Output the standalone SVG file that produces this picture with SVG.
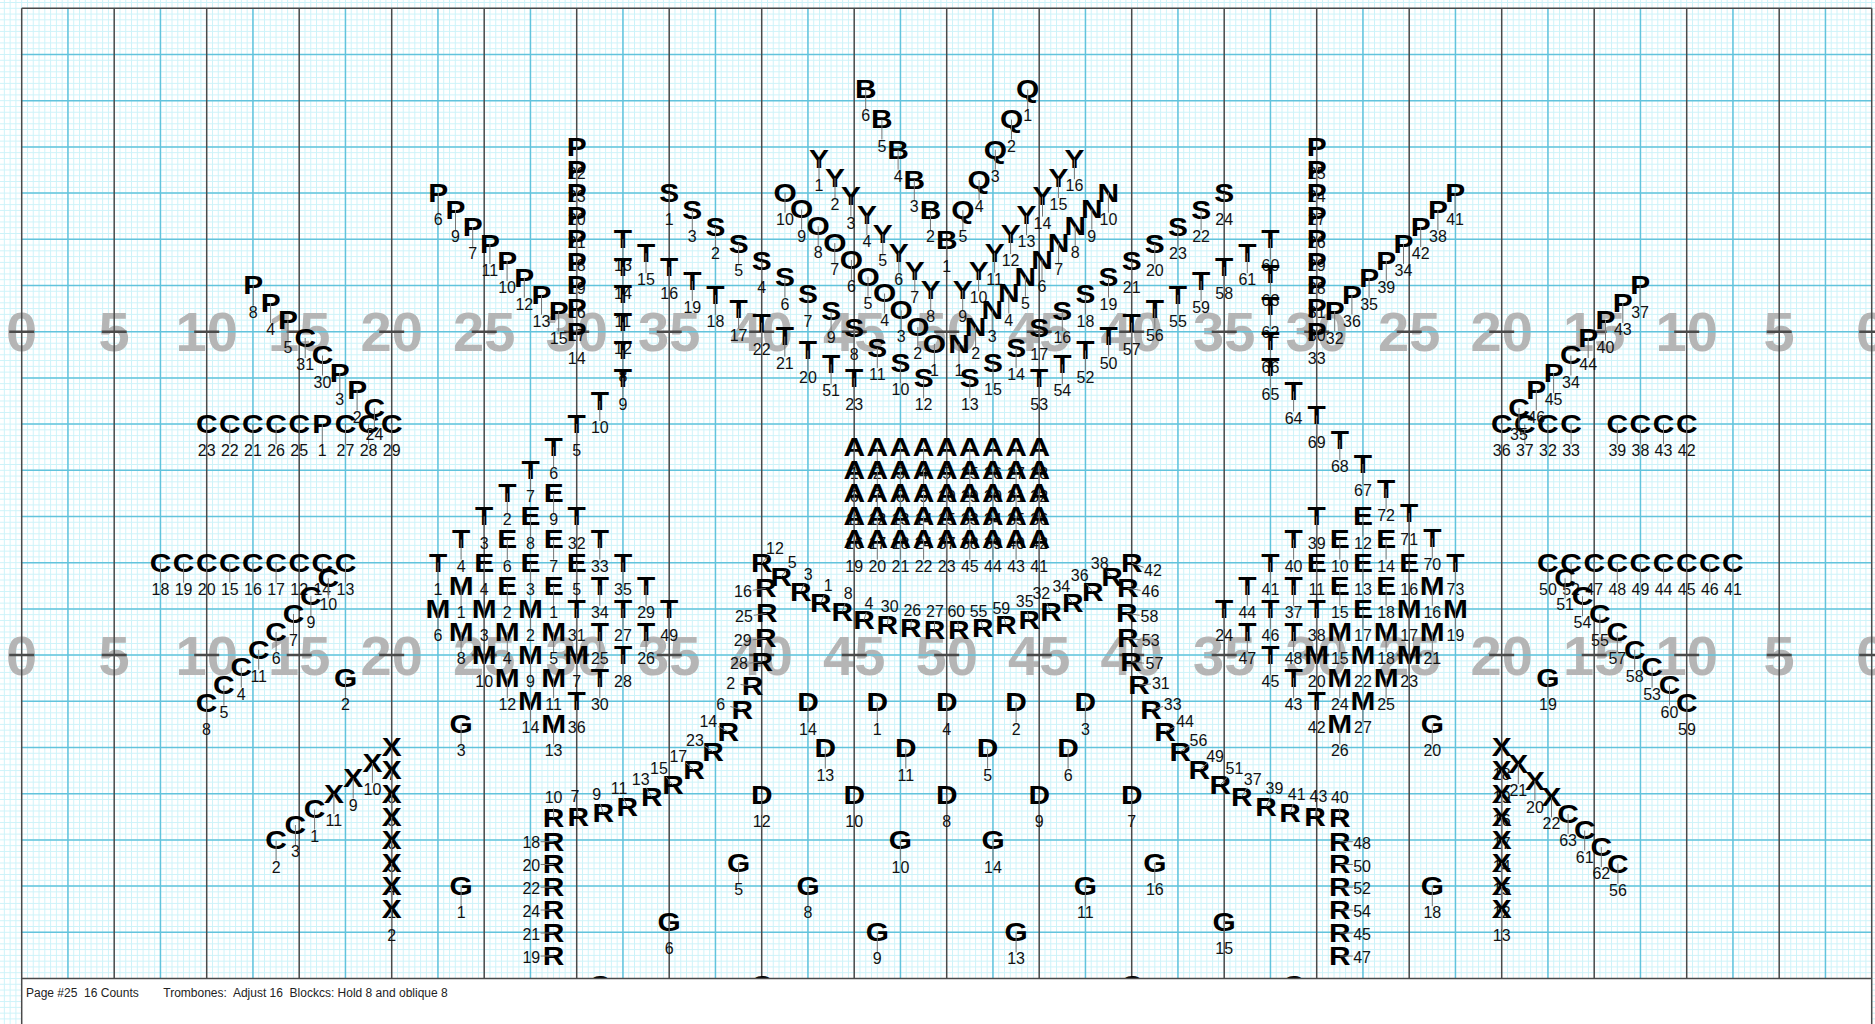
<svg xmlns="http://www.w3.org/2000/svg" width="1875" height="1024" viewBox="0 0 1875 1024">
<defs>
<pattern id="fg" x="21.2" y="7.8" width="5.78125" height="5.775" patternUnits="userSpaceOnUse"><path d="M0.5 0V5.775M0 0.5H5.78125" stroke="#cdf3f9" stroke-width="1" fill="none"/></pattern>
<style>
.f{fill:none;stroke-width:1.5}
.b{stroke:#62c3dc}
.d{stroke:#4a4a4a}
.h{stroke:#4a4a4a;stroke-width:2.5;fill:none}
.yn text{font:bold 56px "Liberation Sans",Arial,sans-serif;fill:#b5b5b5;text-anchor:middle;dominant-baseline:central}
#mk text{font:16px "Liberation Sans",Arial,sans-serif;text-anchor:middle;fill:#111}
#mk text.m{font:bold 26px "Liberation Sans",Arial,sans-serif;dominant-baseline:central;transform:scale(1.15,1);fill:#000}
#mk path{stroke:#777;stroke-width:1;fill:none}
.ft{font:12px "Liberation Sans",Arial,sans-serif;fill:#222;white-space:pre}
</style>
</defs>
<rect width="1875" height="1024" fill="#fff"/>
<rect width="1875" height="1024" fill="url(#fg)"/>
<g id="yardnumbers" class="yn">
<text x="21.7" y="331.7">0</text><text x="114.2" y="331.7">5</text><text x="206.7" y="331.7">10</text><text x="299.2" y="331.7">15</text><text x="391.7" y="331.7">20</text><text x="484.2" y="331.7">25</text><text x="576.7" y="331.7">30</text><text x="669.2" y="331.7">35</text><text x="761.7" y="331.7">40</text><text x="854.2" y="331.7">45</text><text x="946.7" y="331.7">50</text><text x="1039.2" y="331.7">45</text><text x="1131.7" y="331.7">40</text><text x="1224.2" y="331.7">35</text><text x="1316.7" y="331.7">30</text><text x="1409.2" y="331.7">25</text><text x="1501.7" y="331.7">20</text><text x="1594.2" y="331.7">15</text><text x="1686.7" y="331.7">10</text><text x="1779.2" y="331.7">5</text><text x="1871.7" y="331.7">0</text>
<text x="21.7" y="655.1">0</text><text x="114.2" y="655.1">5</text><text x="206.7" y="655.1">10</text><text x="299.2" y="655.1">15</text><text x="391.7" y="655.1">20</text><text x="484.2" y="655.1">25</text><text x="576.7" y="655.1">30</text><text x="669.2" y="655.1">35</text><text x="761.7" y="655.1">40</text><text x="854.2" y="655.1">45</text><text x="946.7" y="655.1">50</text><text x="1039.2" y="655.1">45</text><text x="1131.7" y="655.1">40</text><text x="1224.2" y="655.1">35</text><text x="1316.7" y="655.1">30</text><text x="1409.2" y="655.1">25</text><text x="1501.7" y="655.1">20</text><text x="1594.2" y="655.1">15</text><text x="1686.7" y="655.1">10</text><text x="1779.2" y="655.1">5</text><text x="1871.7" y="655.1">0</text>
</g>
<g id="field">
<path class="f b" d="M67.95 8.3V978.5M160.45 8.3V978.5M252.95 8.3V978.5M345.45 8.3V978.5M437.95 8.3V978.5M530.45 8.3V978.5M622.95 8.3V978.5M715.45 8.3V978.5M807.95 8.3V978.5M900.45 8.3V978.5M992.95 8.3V978.5M1085.45 8.3V978.5M1177.95 8.3V978.5M1270.45 8.3V978.5M1362.95 8.3V978.5M1455.45 8.3V978.5M1547.95 8.3V978.5M1640.45 8.3V978.5M1732.95 8.3V978.5M1825.45 8.3V978.5M21.7 54.5H1871.7M21.7 100.7H1871.7M21.7 146.9H1871.7M21.7 193.1H1871.7M21.7 239.3H1871.7M21.7 285.5H1871.7M21.7 331.7H1871.7M21.7 377.9H1871.7M21.7 424.1H1871.7M21.7 470.3H1871.7M21.7 516.5H1871.7M21.7 562.7H1871.7M21.7 608.9H1871.7M21.7 655.1H1871.7M21.7 701.3H1871.7M21.7 747.5H1871.7M21.7 793.7H1871.7M21.7 839.9H1871.7M21.7 886.1H1871.7M21.7 932.3H1871.7"/>
<path class="f d" d="M114.2 8.3V978.5M206.7 8.3V978.5M299.2 8.3V978.5M391.7 8.3V978.5M484.2 8.3V978.5M576.7 8.3V978.5M669.2 8.3V978.5M761.7 8.3V978.5M854.2 8.3V978.5M946.7 8.3V978.5M1039.2 8.3V978.5M1131.7 8.3V978.5M1224.2 8.3V978.5M1316.7 8.3V978.5M1409.2 8.3V978.5M1501.7 8.3V978.5M1594.2 8.3V978.5M1686.7 8.3V978.5M1779.2 8.3V978.5M21.7 8.3H1871.7"/>
<path class="h" d="M9.2 331.7h25M101.7 331.7h25M194.2 331.7h25M286.7 331.7h25M379.2 331.7h25M471.7 331.7h25M564.2 331.7h25M656.7 331.7h25M749.2 331.7h25M841.7 331.7h25M934.2 331.7h25M1026.7 331.7h25M1119.2 331.7h25M1211.7 331.7h25M1304.2 331.7h25M1396.7 331.7h25M1489.2 331.7h25M1581.7 331.7h25M1674.2 331.7h25M1766.7 331.7h25M1859.2 331.7h25M9.2 655.1h25M101.7 655.1h25M194.2 655.1h25M286.7 655.1h25M379.2 655.1h25M471.7 655.1h25M564.2 655.1h25M656.7 655.1h25M749.2 655.1h25M841.7 655.1h25M934.2 655.1h25M1026.7 655.1h25M1119.2 655.1h25M1211.7 655.1h25M1304.2 655.1h25M1396.7 655.1h25M1489.2 655.1h25M1581.7 655.1h25M1674.2 655.1h25M1766.7 655.1h25M1859.2 655.1h25"/>
</g>
<g id="mk">
<g id="C23" transform="translate(206.7 424.1)"><text class="m">C</text><path d="M0 0v20"/><text y="32">23</text></g>
<g id="C22" transform="translate(229.8 424.1)"><text class="m">C</text><path d="M0 0v20"/><text y="32">22</text></g>
<g id="C21" transform="translate(252.9 424.1)"><text class="m">C</text><path d="M0 0v20"/><text y="32">21</text></g>
<g id="C26" transform="translate(276.1 424.1)"><text class="m">C</text><path d="M0 0v20"/><text y="32">26</text></g>
<g id="C25" transform="translate(299.2 424.1)"><text class="m">C</text><path d="M0 0v20"/><text y="32">25</text></g>
<g id="P1" transform="translate(322.3 424.1)"><text class="m">P</text><path d="M0 0v20"/><text y="32">1</text></g>
<g id="C27" transform="translate(345.5 424.1)"><text class="m">C</text><path d="M0 0v20"/><text y="32">27</text></g>
<g id="C28" transform="translate(368.6 424.1)"><text class="m">C</text><path d="M0 0v20"/><text y="32">28</text></g>
<g id="C29" transform="translate(391.7 424.1)"><text class="m">C</text><path d="M0 0v20"/><text y="32">29</text></g>
<g id="P8" transform="translate(253.3 285.5)"><text class="m">P</text><path d="M0 0v20"/><text y="32">8</text></g>
<g id="P4" transform="translate(270.6 303)"><text class="m">P</text><path d="M0 0v20"/><text y="32">4</text></g>
<g id="P5" transform="translate(287.9 320.5)"><text class="m">P</text><path d="M0 0v20"/><text y="32">5</text></g>
<g id="C31" transform="translate(305.2 338)"><text class="m">C</text><path d="M0 0v20"/><text y="32">31</text></g>
<g id="C30" transform="translate(322.5 355.5)"><text class="m">C</text><path d="M0 0v20"/><text y="32">30</text></g>
<g id="P3" transform="translate(339.8 373)"><text class="m">P</text><path d="M0 0v20"/><text y="32">3</text></g>
<g id="P2" transform="translate(357.1 390.5)"><text class="m">P</text><path d="M0 0v20"/><text y="32">2</text></g>
<g id="C24" transform="translate(374.4 408)"><text class="m">C</text><path d="M0 0v20"/><text y="32">24</text></g>
<g id="P6" transform="translate(438.3 193.3)"><text class="m">P</text><path d="M0 0v20"/><text y="32">6</text></g>
<g id="P9" transform="translate(455.5 210.2)"><text class="m">P</text><path d="M0 0v20"/><text y="32">9</text></g>
<g id="P7" transform="translate(472.7 227.1)"><text class="m">P</text><path d="M0 0v20"/><text y="32">7</text></g>
<g id="P11" transform="translate(489.9 244)"><text class="m">P</text><path d="M0 0v20"/><text y="32">11</text></g>
<g id="P10" transform="translate(507.1 260.9)"><text class="m">P</text><path d="M0 0v20"/><text y="32">10</text></g>
<g id="P12" transform="translate(524.3 277.8)"><text class="m">P</text><path d="M0 0v20"/><text y="32">12</text></g>
<g id="P13" transform="translate(541.5 294.7)"><text class="m">P</text><path d="M0 0v20"/><text y="32">13</text></g>
<g id="P15" transform="translate(558.7 311.6)"><text class="m">P</text><path d="M0 0v20"/><text y="32">15</text></g>
<g id="P22" transform="translate(576.7 146.9)"><text class="m">P</text><path d="M0 0v20"/><text y="32">22</text></g>
<g id="P23" transform="translate(576.7 170)"><text class="m">P</text><path d="M0 0v20"/><text y="32">23</text></g>
<g id="P20" transform="translate(576.7 193.1)"><text class="m">P</text><path d="M0 0v20"/><text y="32">20</text></g>
<g id="P21" transform="translate(576.7 216.2)"><text class="m">P</text><path d="M0 0v20"/><text y="32">21</text></g>
<g id="P18" transform="translate(576.7 239.3)"><text class="m">P</text><path d="M0 0v20"/><text y="32">18</text></g>
<g id="P19" transform="translate(576.7 262.4)"><text class="m">P</text><path d="M0 0v20"/><text y="32">19</text></g>
<g id="P16" transform="translate(576.7 285.5)"><text class="m">P</text><path d="M0 0v20"/><text y="32">16</text></g>
<g id="P17" transform="translate(576.7 308.6)"><text class="m">P</text><path d="M0 0v20"/><text y="32">17</text></g>
<g id="P14" transform="translate(576.7 331.7)"><text class="m">P</text><path d="M0 0v20"/><text y="32">14</text></g>
<g id="C18" transform="translate(160.5 562.7)"><text class="m">C</text><path d="M0 0v20"/><text y="32">18</text></g>
<g id="C19" transform="translate(183.6 562.7)"><text class="m">C</text><path d="M0 0v20"/><text y="32">19</text></g>
<g id="C20" transform="translate(206.7 562.7)"><text class="m">C</text><path d="M0 0v20"/><text y="32">20</text></g>
<g id="C15" transform="translate(229.8 562.7)"><text class="m">C</text><path d="M0 0v20"/><text y="32">15</text></g>
<g id="C16" transform="translate(252.9 562.7)"><text class="m">C</text><path d="M0 0v20"/><text y="32">16</text></g>
<g id="C17" transform="translate(276.1 562.7)"><text class="m">C</text><path d="M0 0v20"/><text y="32">17</text></g>
<g id="C12" transform="translate(299.2 562.7)"><text class="m">C</text><path d="M0 0v20"/><text y="32">12</text></g>
<g id="C14" transform="translate(322.3 562.7)"><text class="m">C</text><path d="M0 0v20"/><text y="32">14</text></g>
<g id="C13" transform="translate(345.5 562.7)"><text class="m">C</text><path d="M0 0v20"/><text y="32">13</text></g>
<g id="C10" transform="translate(328.3 578.3)"><text class="m">C</text><path d="M0 0v20"/><text y="32">10</text></g>
<g id="C9" transform="translate(310.9 596.2)"><text class="m">C</text><path d="M0 0v20"/><text y="32">9</text></g>
<g id="C7" transform="translate(293.5 614)"><text class="m">C</text><path d="M0 0v20"/><text y="32">7</text></g>
<g id="C6" transform="translate(276.1 631.9)"><text class="m">C</text><path d="M0 0v20"/><text y="32">6</text></g>
<g id="C11" transform="translate(258.7 649.7)"><text class="m">C</text><path d="M0 0v20"/><text y="32">11</text></g>
<g id="C4" transform="translate(241.3 667.6)"><text class="m">C</text><path d="M0 0v20"/><text y="32">4</text></g>
<g id="C5" transform="translate(223.9 685.5)"><text class="m">C</text><path d="M0 0v20"/><text y="32">5</text></g>
<g id="C8" transform="translate(206.5 703.3)"><text class="m">C</text><path d="M0 0v20"/><text y="32">8</text></g>
<g id="C2" transform="translate(276.1 840.5)"><text class="m">C</text><path d="M0 0v20"/><text y="32">2</text></g>
<g id="C3" transform="translate(295.4 825)"><text class="m">C</text><path d="M0 0v20"/><text y="32">3</text></g>
<g id="C1" transform="translate(314.6 809.5)"><text class="m">C</text><path d="M0 0v20"/><text y="32">1</text></g>
<g id="X11" transform="translate(333.9 794)"><text class="m">X</text><path d="M0 0v20"/><text y="32">11</text></g>
<g id="X9" transform="translate(353.2 778.5)"><text class="m">X</text><path d="M0 0v20"/><text y="32">9</text></g>
<g id="X10" transform="translate(372.4 763)"><text class="m">X</text><path d="M0 0v20"/><text y="32">10</text></g>
<g id="X7" transform="translate(391.7 747.5)"><text class="m">X</text><path d="M0 0v20"/><text y="32">7</text></g>
<g id="X8" transform="translate(391.7 770.6)"><text class="m">X</text><path d="M0 0v20"/><text y="32">8</text></g>
<g id="X5" transform="translate(391.7 793.7)"><text class="m">X</text><path d="M0 0v20"/><text y="32">5</text></g>
<g id="X6" transform="translate(391.7 816.8)"><text class="m">X</text><path d="M0 0v20"/><text y="32">6</text></g>
<g id="X3" transform="translate(391.7 839.9)"><text class="m">X</text><path d="M0 0v20"/><text y="32">3</text></g>
<g id="X4" transform="translate(391.7 863)"><text class="m">X</text><path d="M0 0v20"/><text y="32">4</text></g>
<g id="X1" transform="translate(391.7 886.1)"><text class="m">X</text><path d="M0 0v20"/><text y="32">1</text></g>
<g id="X2" transform="translate(391.7 909.2)"><text class="m">X</text><path d="M0 0v20"/><text y="32">2</text></g>
<g id="C36" transform="translate(1501.7 424.1)"><text class="m">C</text><path d="M0 0v20"/><text y="32">36</text></g>
<g id="C37" transform="translate(1524.8 424.1)"><text class="m">C</text><path d="M0 0v20"/><text y="32">37</text></g>
<g id="C32" transform="translate(1547.9 424.1)"><text class="m">C</text><path d="M0 0v20"/><text y="32">32</text></g>
<g id="C33" transform="translate(1571.1 424.1)"><text class="m">C</text><path d="M0 0v20"/><text y="32">33</text></g>
<g id="C39" transform="translate(1617.3 424.1)"><text class="m">C</text><path d="M0 0v20"/><text y="32">39</text></g>
<g id="C38" transform="translate(1640.4 424.1)"><text class="m">C</text><path d="M0 0v20"/><text y="32">38</text></g>
<g id="C43" transform="translate(1663.5 424.1)"><text class="m">C</text><path d="M0 0v20"/><text y="32">43</text></g>
<g id="C42" transform="translate(1686.7 424.1)"><text class="m">C</text><path d="M0 0v20"/><text y="32">42</text></g>
<g id="P37" transform="translate(1640.1 285.5)"><text class="m">P</text><path d="M0 0v20"/><text y="32">37</text></g>
<g id="P43" transform="translate(1622.8 303)"><text class="m">P</text><path d="M0 0v20"/><text y="32">43</text></g>
<g id="P40" transform="translate(1605.5 320.5)"><text class="m">P</text><path d="M0 0v20"/><text y="32">40</text></g>
<g id="P44" transform="translate(1588.2 338)"><text class="m">P</text><path d="M0 0v20"/><text y="32">44</text></g>
<g id="C34" transform="translate(1570.9 355.5)"><text class="m">C</text><path d="M0 0v20"/><text y="32">34</text></g>
<g id="P45" transform="translate(1553.6 373)"><text class="m">P</text><path d="M0 0v20"/><text y="32">45</text></g>
<g id="P46" transform="translate(1536.3 390.5)"><text class="m">P</text><path d="M0 0v20"/><text y="32">46</text></g>
<g id="C35" transform="translate(1519 408)"><text class="m">C</text><path d="M0 0v20"/><text y="32">35</text></g>
<g id="P41" transform="translate(1455.1 193.3)"><text class="m">P</text><path d="M0 0v20"/><text y="32">41</text></g>
<g id="P38" transform="translate(1437.9 210.2)"><text class="m">P</text><path d="M0 0v20"/><text y="32">38</text></g>
<g id="P42" transform="translate(1420.7 227.1)"><text class="m">P</text><path d="M0 0v20"/><text y="32">42</text></g>
<g id="P34" transform="translate(1403.5 244)"><text class="m">P</text><path d="M0 0v20"/><text y="32">34</text></g>
<g id="P39" transform="translate(1386.3 260.9)"><text class="m">P</text><path d="M0 0v20"/><text y="32">39</text></g>
<g id="P35" transform="translate(1369.1 277.8)"><text class="m">P</text><path d="M0 0v20"/><text y="32">35</text></g>
<g id="P36" transform="translate(1351.9 294.7)"><text class="m">P</text><path d="M0 0v20"/><text y="32">36</text></g>
<g id="P32" transform="translate(1334.7 311.6)"><text class="m">P</text><path d="M0 0v20"/><text y="32">32</text></g>
<g id="P25" transform="translate(1316.7 146.9)"><text class="m">P</text><path d="M0 0v20"/><text y="32">25</text></g>
<g id="P24" transform="translate(1316.7 170)"><text class="m">P</text><path d="M0 0v20"/><text y="32">24</text></g>
<g id="P27" transform="translate(1316.7 193.1)"><text class="m">P</text><path d="M0 0v20"/><text y="32">27</text></g>
<g id="P26" transform="translate(1316.7 216.2)"><text class="m">P</text><path d="M0 0v20"/><text y="32">26</text></g>
<g id="P29" transform="translate(1316.7 239.3)"><text class="m">P</text><path d="M0 0v20"/><text y="32">29</text></g>
<g id="P28" transform="translate(1316.7 262.4)"><text class="m">P</text><path d="M0 0v20"/><text y="32">28</text></g>
<g id="P31" transform="translate(1316.7 285.5)"><text class="m">P</text><path d="M0 0v20"/><text y="32">31</text></g>
<g id="P30" transform="translate(1316.7 308.6)"><text class="m">P</text><path d="M0 0v20"/><text y="32">30</text></g>
<g id="P33" transform="translate(1316.7 331.7)"><text class="m">P</text><path d="M0 0v20"/><text y="32">33</text></g>
<g id="C50" transform="translate(1547.9 562.7)"><text class="m">C</text><path d="M0 0v20"/><text y="32">50</text></g>
<g id="C52" transform="translate(1571.1 562.7)"><text class="m">C</text><path d="M0 0v20"/><text y="32">52</text></g>
<g id="C47" transform="translate(1594.2 562.7)"><text class="m">C</text><path d="M0 0v20"/><text y="32">47</text></g>
<g id="C48" transform="translate(1617.3 562.7)"><text class="m">C</text><path d="M0 0v20"/><text y="32">48</text></g>
<g id="C49" transform="translate(1640.4 562.7)"><text class="m">C</text><path d="M0 0v20"/><text y="32">49</text></g>
<g id="C44" transform="translate(1663.6 562.7)"><text class="m">C</text><path d="M0 0v20"/><text y="32">44</text></g>
<g id="C45" transform="translate(1686.7 562.7)"><text class="m">C</text><path d="M0 0v20"/><text y="32">45</text></g>
<g id="C46" transform="translate(1709.8 562.7)"><text class="m">C</text><path d="M0 0v20"/><text y="32">46</text></g>
<g id="C41" transform="translate(1732.9 562.7)"><text class="m">C</text><path d="M0 0v20"/><text y="32">41</text></g>
<g id="C51" transform="translate(1565.1 578.3)"><text class="m">C</text><path d="M0 0v20"/><text y="32">51</text></g>
<g id="C54" transform="translate(1582.5 596.2)"><text class="m">C</text><path d="M0 0v20"/><text y="32">54</text></g>
<g id="C55" transform="translate(1599.9 614)"><text class="m">C</text><path d="M0 0v20"/><text y="32">55</text></g>
<g id="C57" transform="translate(1617.3 631.9)"><text class="m">C</text><path d="M0 0v20"/><text y="32">57</text></g>
<g id="C58" transform="translate(1634.7 649.7)"><text class="m">C</text><path d="M0 0v20"/><text y="32">58</text></g>
<g id="C53" transform="translate(1652.1 667.6)"><text class="m">C</text><path d="M0 0v20"/><text y="32">53</text></g>
<g id="C60" transform="translate(1669.5 685.5)"><text class="m">C</text><path d="M0 0v20"/><text y="32">60</text></g>
<g id="C59" transform="translate(1686.9 703.3)"><text class="m">C</text><path d="M0 0v20"/><text y="32">59</text></g>
<g id="X18" transform="translate(1501.7 747.5)"><text class="m">X</text><path d="M0 0v20"/><text y="32">18</text></g>
<g id="X19" transform="translate(1501.7 770.6)"><text class="m">X</text><path d="M0 0v20"/><text y="32">19</text></g>
<g id="X16" transform="translate(1501.7 793.7)"><text class="m">X</text><path d="M0 0v20"/><text y="32">16</text></g>
<g id="X17" transform="translate(1501.7 816.8)"><text class="m">X</text><path d="M0 0v20"/><text y="32">17</text></g>
<g id="X14" transform="translate(1501.7 839.9)"><text class="m">X</text><path d="M0 0v20"/><text y="32">14</text></g>
<g id="X15" transform="translate(1501.7 863)"><text class="m">X</text><path d="M0 0v20"/><text y="32">15</text></g>
<g id="X12" transform="translate(1501.7 886.1)"><text class="m">X</text><path d="M0 0v20"/><text y="32">12</text></g>
<g id="X13" transform="translate(1501.7 909.2)"><text class="m">X</text><path d="M0 0v20"/><text y="32">13</text></g>
<g id="X21" transform="translate(1518.3 764.1)"><text class="m">X</text><path d="M0 0v20"/><text y="32">21</text></g>
<g id="X20" transform="translate(1534.9 780.7)"><text class="m">X</text><path d="M0 0v20"/><text y="32">20</text></g>
<g id="X22" transform="translate(1551.5 797.3)"><text class="m">X</text><path d="M0 0v20"/><text y="32">22</text></g>
<g id="C63" transform="translate(1568.1 813.9)"><text class="m">C</text><path d="M0 0v20"/><text y="32">63</text></g>
<g id="C61" transform="translate(1584.7 830.5)"><text class="m">C</text><path d="M0 0v20"/><text y="32">61</text></g>
<g id="C62" transform="translate(1601.3 847.1)"><text class="m">C</text><path d="M0 0v20"/><text y="32">62</text></g>
<g id="C56" transform="translate(1617.9 863.7)"><text class="m">C</text><path d="M0 0v20"/><text y="32">56</text></g>
<g id="G2" transform="translate(345.5 678.2)"><text class="m">G</text><path d="M0 0v20"/><text y="32">2</text></g>
<g id="G3" transform="translate(461.1 724.4)"><text class="m">G</text><path d="M0 0v20"/><text y="32">3</text></g>
<g id="G1" transform="translate(461.1 886.1)"><text class="m">G</text><path d="M0 0v20"/><text y="32">1</text></g>
<g id="G5" transform="translate(738.6 863)"><text class="m">G</text><path d="M0 0v20"/><text y="32">5</text></g>
<g id="G6" transform="translate(669.2 922)"><text class="m">G</text><path d="M0 0v20"/><text y="32">6</text></g>
<g id="G8" transform="translate(808 886.1)"><text class="m">G</text><path d="M0 0v20"/><text y="32">8</text></g>
<g id="G9" transform="translate(877.3 932.3)"><text class="m">G</text><path d="M0 0v20"/><text y="32">9</text></g>
<g id="G10" transform="translate(900.4 840.5)"><text class="m">G</text><path d="M0 0v20"/><text y="32">10</text></g>
<g id="G14" transform="translate(993 840.5)"><text class="m">G</text><path d="M0 0v20"/><text y="32">14</text></g>
<g id="G13" transform="translate(1016.1 932.3)"><text class="m">G</text><path d="M0 0v20"/><text y="32">13</text></g>
<g id="G11" transform="translate(1085.4 886.1)"><text class="m">G</text><path d="M0 0v20"/><text y="32">11</text></g>
<g id="G16" transform="translate(1154.8 863)"><text class="m">G</text><path d="M0 0v20"/><text y="32">16</text></g>
<g id="G15" transform="translate(1224.2 922)"><text class="m">G</text><path d="M0 0v20"/><text y="32">15</text></g>
<g id="G20" transform="translate(1432.3 724.4)"><text class="m">G</text><path d="M0 0v20"/><text y="32">20</text></g>
<g id="G18" transform="translate(1432.3 886.1)"><text class="m">G</text><path d="M0 0v20"/><text y="32">18</text></g>
<g id="G19" transform="translate(1547.9 678.2)"><text class="m">G</text><path d="M0 0v20"/><text y="32">19</text></g>
<g id="D14" transform="translate(808 702.5)"><text class="m">D</text><path d="M0 0v20"/><text y="32">14</text></g>
<g id="D1" transform="translate(877.3 702.5)"><text class="m">D</text><path d="M0 0v20"/><text y="32">1</text></g>
<g id="D4" transform="translate(946.7 702.5)"><text class="m">D</text><path d="M0 0v20"/><text y="32">4</text></g>
<g id="D2" transform="translate(1016.1 702.5)"><text class="m">D</text><path d="M0 0v20"/><text y="32">2</text></g>
<g id="D3" transform="translate(1085.4 702.5)"><text class="m">D</text><path d="M0 0v20"/><text y="32">3</text></g>
<g id="D13" transform="translate(825.3 748.5)"><text class="m">D</text><path d="M0 0v20"/><text y="32">13</text></g>
<g id="D11" transform="translate(905.8 748.5)"><text class="m">D</text><path d="M0 0v20"/><text y="32">11</text></g>
<g id="D5" transform="translate(987.6 748.5)"><text class="m">D</text><path d="M0 0v20"/><text y="32">5</text></g>
<g id="D6" transform="translate(1068.1 748.5)"><text class="m">D</text><path d="M0 0v20"/><text y="32">6</text></g>
<g id="D12" transform="translate(761.7 795)"><text class="m">D</text><path d="M0 0v20"/><text y="32">12</text></g>
<g id="D10" transform="translate(854.2 795)"><text class="m">D</text><path d="M0 0v20"/><text y="32">10</text></g>
<g id="D8" transform="translate(946.7 795)"><text class="m">D</text><path d="M0 0v20"/><text y="32">8</text></g>
<g id="D9" transform="translate(1039.2 795)"><text class="m">D</text><path d="M0 0v20"/><text y="32">9</text></g>
<g id="D7" transform="translate(1131.7 795)"><text class="m">D</text><path d="M0 0v20"/><text y="32">7</text></g>
<g id="Cb1" transform="translate(599.8 985)"><text class="m">C</text></g>
<g id="Cb2" transform="translate(761.7 985)"><text class="m">C</text></g>
<g id="Cb3" transform="translate(1131.7 985)"><text class="m">C</text></g>
<g id="Cb4" transform="translate(1293.6 985)"><text class="m">C</text></g>
<g id="B6" transform="translate(865.7 89.3)"><text class="m">B</text><path d="M0 0v20"/><text y="32">6</text></g>
<g id="B5" transform="translate(881.9 119.5)"><text class="m">B</text><path d="M0 0v20"/><text y="32">5</text></g>
<g id="B4" transform="translate(898.1 149.7)"><text class="m">B</text><path d="M0 0v20"/><text y="32">4</text></g>
<g id="B3" transform="translate(914.3 179.9)"><text class="m">B</text><path d="M0 0v20"/><text y="32">3</text></g>
<g id="B2" transform="translate(930.5 210.1)"><text class="m">B</text><path d="M0 0v20"/><text y="32">2</text></g>
<g id="B1" transform="translate(946.7 240.3)"><text class="m">B</text><path d="M0 0v20"/><text y="32">1</text></g>
<g id="Q1" transform="translate(1027.7 89.3)"><text class="m">Q</text><path d="M0 0v20"/><text y="32">1</text></g>
<g id="Q2" transform="translate(1011.5 119.5)"><text class="m">Q</text><path d="M0 0v20"/><text y="32">2</text></g>
<g id="Q3" transform="translate(995.3 149.7)"><text class="m">Q</text><path d="M0 0v20"/><text y="32">3</text></g>
<g id="Q4" transform="translate(979.1 179.9)"><text class="m">Q</text><path d="M0 0v20"/><text y="32">4</text></g>
<g id="Q5" transform="translate(962.9 210.1)"><text class="m">Q</text><path d="M0 0v20"/><text y="32">5</text></g>
<g id="Y1" transform="translate(819 159.3)"><text class="m">Y</text><path d="M0 0v20"/><text y="32">1</text></g>
<g id="Y2" transform="translate(835 178)"><text class="m">Y</text><path d="M0 0v20"/><text y="32">2</text></g>
<g id="Y3" transform="translate(850.9 196.6)"><text class="m">Y</text><path d="M0 0v20"/><text y="32">3</text></g>
<g id="Y4" transform="translate(866.9 215.3)"><text class="m">Y</text><path d="M0 0v20"/><text y="32">4</text></g>
<g id="Y5" transform="translate(882.8 234)"><text class="m">Y</text><path d="M0 0v20"/><text y="32">5</text></g>
<g id="Y6" transform="translate(898.8 252.7)"><text class="m">Y</text><path d="M0 0v20"/><text y="32">6</text></g>
<g id="Y7" transform="translate(914.8 271.3)"><text class="m">Y</text><path d="M0 0v20"/><text y="32">7</text></g>
<g id="Y8" transform="translate(930.7 290)"><text class="m">Y</text><path d="M0 0v20"/><text y="32">8</text></g>
<g id="Y16" transform="translate(1074.4 159.3)"><text class="m">Y</text><path d="M0 0v20"/><text y="32">16</text></g>
<g id="Y15" transform="translate(1058.4 178)"><text class="m">Y</text><path d="M0 0v20"/><text y="32">15</text></g>
<g id="Y14" transform="translate(1042.5 196.6)"><text class="m">Y</text><path d="M0 0v20"/><text y="32">14</text></g>
<g id="Y13" transform="translate(1026.5 215.3)"><text class="m">Y</text><path d="M0 0v20"/><text y="32">13</text></g>
<g id="Y12" transform="translate(1010.6 234)"><text class="m">Y</text><path d="M0 0v20"/><text y="32">12</text></g>
<g id="Y11" transform="translate(994.6 252.7)"><text class="m">Y</text><path d="M0 0v20"/><text y="32">11</text></g>
<g id="Y10" transform="translate(978.6 271.3)"><text class="m">Y</text><path d="M0 0v20"/><text y="32">10</text></g>
<g id="Y9" transform="translate(962.7 290)"><text class="m">Y</text><path d="M0 0v20"/><text y="32">9</text></g>
<g id="O10" transform="translate(785 192.7)"><text class="m">O</text><path d="M0 0v20"/><text y="32">10</text></g>
<g id="O9" transform="translate(801.6 209.5)"><text class="m">O</text><path d="M0 0v20"/><text y="32">9</text></g>
<g id="O8" transform="translate(818.2 226.3)"><text class="m">O</text><path d="M0 0v20"/><text y="32">8</text></g>
<g id="O7" transform="translate(834.8 243.1)"><text class="m">O</text><path d="M0 0v20"/><text y="32">7</text></g>
<g id="O6" transform="translate(851.4 259.9)"><text class="m">O</text><path d="M0 0v20"/><text y="32">6</text></g>
<g id="O5" transform="translate(868 276.7)"><text class="m">O</text><path d="M0 0v20"/><text y="32">5</text></g>
<g id="O4" transform="translate(884.6 293.5)"><text class="m">O</text><path d="M0 0v20"/><text y="32">4</text></g>
<g id="O3" transform="translate(901.2 310.3)"><text class="m">O</text><path d="M0 0v20"/><text y="32">3</text></g>
<g id="O2" transform="translate(917.8 327.1)"><text class="m">O</text><path d="M0 0v20"/><text y="32">2</text></g>
<g id="O1" transform="translate(934.4 343.9)"><text class="m">O</text><path d="M0 0v20"/><text y="32">1</text></g>
<g id="N10" transform="translate(1108.4 192.7)"><text class="m">N</text><path d="M0 0v20"/><text y="32">10</text></g>
<g id="N9" transform="translate(1091.8 209.5)"><text class="m">N</text><path d="M0 0v20"/><text y="32">9</text></g>
<g id="N8" transform="translate(1075.2 226.3)"><text class="m">N</text><path d="M0 0v20"/><text y="32">8</text></g>
<g id="N7" transform="translate(1058.6 243.1)"><text class="m">N</text><path d="M0 0v20"/><text y="32">7</text></g>
<g id="N6" transform="translate(1042 259.9)"><text class="m">N</text><path d="M0 0v20"/><text y="32">6</text></g>
<g id="N5" transform="translate(1025.4 276.7)"><text class="m">N</text><path d="M0 0v20"/><text y="32">5</text></g>
<g id="N4" transform="translate(1008.8 293.5)"><text class="m">N</text><path d="M0 0v20"/><text y="32">4</text></g>
<g id="N3" transform="translate(992.2 310.3)"><text class="m">N</text><path d="M0 0v20"/><text y="32">3</text></g>
<g id="N2" transform="translate(975.6 327.1)"><text class="m">N</text><path d="M0 0v20"/><text y="32">2</text></g>
<g id="N1" transform="translate(959 343.9)"><text class="m">N</text><path d="M0 0v20"/><text y="32">1</text></g>
<g id="S1" transform="translate(669.2 193.1)"><text class="m">S</text><path d="M0 0v20"/><text y="32">1</text></g>
<g id="S3" transform="translate(692.3 210)"><text class="m">S</text><path d="M0 0v20"/><text y="32">3</text></g>
<g id="S2" transform="translate(715.5 226.9)"><text class="m">S</text><path d="M0 0v20"/><text y="32">2</text></g>
<g id="S5" transform="translate(738.6 243.8)"><text class="m">S</text><path d="M0 0v20"/><text y="32">5</text></g>
<g id="S4" transform="translate(761.7 260.7)"><text class="m">S</text><path d="M0 0v20"/><text y="32">4</text></g>
<g id="S6" transform="translate(784.9 277.6)"><text class="m">S</text><path d="M0 0v20"/><text y="32">6</text></g>
<g id="S7" transform="translate(808 294.5)"><text class="m">S</text><path d="M0 0v20"/><text y="32">7</text></g>
<g id="S9" transform="translate(831.1 311.4)"><text class="m">S</text><path d="M0 0v20"/><text y="32">9</text></g>
<g id="S8" transform="translate(854.2 328.3)"><text class="m">S</text><path d="M0 0v20"/><text y="32">8</text></g>
<g id="S11" transform="translate(877.3 347.9)"><text class="m">S</text><path d="M0 0v20"/><text y="32">11</text></g>
<g id="S10" transform="translate(900.4 363)"><text class="m">S</text><path d="M0 0v20"/><text y="32">10</text></g>
<g id="S12" transform="translate(923.6 378.3)"><text class="m">S</text><path d="M0 0v20"/><text y="32">12</text></g>
<g id="S24" transform="translate(1224.2 193.1)"><text class="m">S</text><path d="M0 0v20"/><text y="32">24</text></g>
<g id="S22" transform="translate(1201.1 210)"><text class="m">S</text><path d="M0 0v20"/><text y="32">22</text></g>
<g id="S23" transform="translate(1177.9 226.9)"><text class="m">S</text><path d="M0 0v20"/><text y="32">23</text></g>
<g id="S20" transform="translate(1154.8 243.8)"><text class="m">S</text><path d="M0 0v20"/><text y="32">20</text></g>
<g id="S21" transform="translate(1131.7 260.7)"><text class="m">S</text><path d="M0 0v20"/><text y="32">21</text></g>
<g id="S19" transform="translate(1108.5 277.6)"><text class="m">S</text><path d="M0 0v20"/><text y="32">19</text></g>
<g id="S18" transform="translate(1085.4 294.5)"><text class="m">S</text><path d="M0 0v20"/><text y="32">18</text></g>
<g id="S16" transform="translate(1062.3 311.4)"><text class="m">S</text><path d="M0 0v20"/><text y="32">16</text></g>
<g id="S17" transform="translate(1039.2 328.3)"><text class="m">S</text><path d="M0 0v20"/><text y="32">17</text></g>
<g id="S14" transform="translate(1016.1 347.9)"><text class="m">S</text><path d="M0 0v20"/><text y="32">14</text></g>
<g id="S15" transform="translate(993 363)"><text class="m">S</text><path d="M0 0v20"/><text y="32">15</text></g>
<g id="S13" transform="translate(969.8 378.3)"><text class="m">S</text><path d="M0 0v20"/><text y="32">13</text></g>
<g id="T13" transform="translate(622.9 239.3)"><text class="m">T</text><path d="M0 0v20"/><text y="32">13</text></g>
<g id="T15" transform="translate(646 253.2)"><text class="m">T</text><path d="M0 0v20"/><text y="32">15</text></g>
<g id="T16" transform="translate(669.2 267.1)"><text class="m">T</text><path d="M0 0v20"/><text y="32">16</text></g>
<g id="T19" transform="translate(692.3 281)"><text class="m">T</text><path d="M0 0v20"/><text y="32">19</text></g>
<g id="T18" transform="translate(715.4 294.9)"><text class="m">T</text><path d="M0 0v20"/><text y="32">18</text></g>
<g id="T17" transform="translate(738.6 308.8)"><text class="m">T</text><path d="M0 0v20"/><text y="32">17</text></g>
<g id="T22" transform="translate(761.7 322.7)"><text class="m">T</text><path d="M0 0v20"/><text y="32">22</text></g>
<g id="T21" transform="translate(784.8 336.6)"><text class="m">T</text><path d="M0 0v20"/><text y="32">21</text></g>
<g id="T20" transform="translate(807.9 350.5)"><text class="m">T</text><path d="M0 0v20"/><text y="32">20</text></g>
<g id="T51" transform="translate(831.1 364.4)"><text class="m">T</text><path d="M0 0v20"/><text y="32">51</text></g>
<g id="T23" transform="translate(854.2 378.3)"><text class="m">T</text><path d="M0 0v20"/><text y="32">23</text></g>
<g id="T14" transform="translate(622.9 267)"><text class="m">T</text><path d="M0 0v20"/><text y="32">14</text></g>
<g id="T11" transform="translate(622.9 294.6)"><text class="m">T</text><path d="M0 0v20"/><text y="32">11</text></g>
<g id="T12" transform="translate(622.9 322.3)"><text class="m">T</text><path d="M0 0v20"/><text y="32">12</text></g>
<g id="T8" transform="translate(622.9 350)"><text class="m">T</text><path d="M0 0v20"/><text y="32">8</text></g>
<g id="T9" transform="translate(622.9 377.9)"><text class="m">T</text><path d="M0 0v20"/><text y="32">9</text></g>
<g id="T10" transform="translate(599.8 401)"><text class="m">T</text><path d="M0 0v20"/><text y="32">10</text></g>
<g id="T5" transform="translate(576.7 424.1)"><text class="m">T</text><path d="M0 0v20"/><text y="32">5</text></g>
<g id="T6" transform="translate(553.6 447.2)"><text class="m">T</text><path d="M0 0v20"/><text y="32">6</text></g>
<g id="T7" transform="translate(530.5 470.3)"><text class="m">T</text><path d="M0 0v20"/><text y="32">7</text></g>
<g id="T2" transform="translate(507.3 493.4)"><text class="m">T</text><path d="M0 0v20"/><text y="32">2</text></g>
<g id="T3" transform="translate(484.2 516.5)"><text class="m">T</text><path d="M0 0v20"/><text y="32">3</text></g>
<g id="T4" transform="translate(461.1 539.6)"><text class="m">T</text><path d="M0 0v20"/><text y="32">4</text></g>
<g id="T1" transform="translate(438 562.7)"><text class="m">T</text><path d="M0 0v20"/><text y="32">1</text></g>
<g id="E9" transform="translate(553.6 493.4)"><text class="m">E</text><path d="M0 0v20"/><text y="32">9</text></g>
<g id="E8" transform="translate(530.5 516.5)"><text class="m">E</text><path d="M0 0v20"/><text y="32">8</text></g>
<g id="T32" transform="translate(576.7 516.5)"><text class="m">T</text><path d="M0 0v20"/><text y="32">32</text></g>
<g id="E6" transform="translate(507.3 539.6)"><text class="m">E</text><path d="M0 0v20"/><text y="32">6</text></g>
<g id="E7" transform="translate(553.6 539.6)"><text class="m">E</text><path d="M0 0v20"/><text y="32">7</text></g>
<g id="T33" transform="translate(599.8 539.6)"><text class="m">T</text><path d="M0 0v20"/><text y="32">33</text></g>
<g id="E4" transform="translate(484.2 562.7)"><text class="m">E</text><path d="M0 0v20"/><text y="32">4</text></g>
<g id="E3" transform="translate(530.5 562.7)"><text class="m">E</text><path d="M0 0v20"/><text y="32">3</text></g>
<g id="E5" transform="translate(576.7 562.7)"><text class="m">E</text><path d="M0 0v20"/><text y="32">5</text></g>
<g id="T35" transform="translate(623 562.7)"><text class="m">T</text><path d="M0 0v20"/><text y="32">35</text></g>
<g id="M1" transform="translate(461.1 585.8)"><text class="m">M</text><path d="M0 0v20"/><text y="32">1</text></g>
<g id="E2" transform="translate(507.3 585.8)"><text class="m">E</text><path d="M0 0v20"/><text y="32">2</text></g>
<g id="E1" transform="translate(553.6 585.8)"><text class="m">E</text><path d="M0 0v20"/><text y="32">1</text></g>
<g id="T34" transform="translate(599.8 585.8)"><text class="m">T</text><path d="M0 0v20"/><text y="32">34</text></g>
<g id="T29" transform="translate(646.1 585.8)"><text class="m">T</text><path d="M0 0v20"/><text y="32">29</text></g>
<g id="M6" transform="translate(438 608.9)"><text class="m">M</text><path d="M0 0v20"/><text y="32">6</text></g>
<g id="M3" transform="translate(484.2 608.9)"><text class="m">M</text><path d="M0 0v20"/><text y="32">3</text></g>
<g id="M2" transform="translate(530.5 608.9)"><text class="m">M</text><path d="M0 0v20"/><text y="32">2</text></g>
<g id="T31" transform="translate(576.7 608.9)"><text class="m">T</text><path d="M0 0v20"/><text y="32">31</text></g>
<g id="T27" transform="translate(623 608.9)"><text class="m">T</text><path d="M0 0v20"/><text y="32">27</text></g>
<g id="T49" transform="translate(669.2 608.9)"><text class="m">T</text><path d="M0 0v20"/><text y="32">49</text></g>
<g id="M8" transform="translate(461.1 632)"><text class="m">M</text><path d="M0 0v20"/><text y="32">8</text></g>
<g id="M4" transform="translate(507.3 632)"><text class="m">M</text><path d="M0 0v20"/><text y="32">4</text></g>
<g id="M5" transform="translate(553.6 632)"><text class="m">M</text><path d="M0 0v20"/><text y="32">5</text></g>
<g id="T25" transform="translate(599.8 632)"><text class="m">T</text><path d="M0 0v20"/><text y="32">25</text></g>
<g id="T26" transform="translate(646.1 632)"><text class="m">T</text><path d="M0 0v20"/><text y="32">26</text></g>
<g id="M10" transform="translate(484.2 655.1)"><text class="m">M</text><path d="M0 0v20"/><text y="32">10</text></g>
<g id="M9" transform="translate(530.5 655.1)"><text class="m">M</text><path d="M0 0v20"/><text y="32">9</text></g>
<g id="M7" transform="translate(576.7 655.1)"><text class="m">M</text><path d="M0 0v20"/><text y="32">7</text></g>
<g id="T28" transform="translate(623 655.1)"><text class="m">T</text><path d="M0 0v20"/><text y="32">28</text></g>
<g id="M12" transform="translate(507.3 678.2)"><text class="m">M</text><path d="M0 0v20"/><text y="32">12</text></g>
<g id="M11" transform="translate(553.6 678.2)"><text class="m">M</text><path d="M0 0v20"/><text y="32">11</text></g>
<g id="T30" transform="translate(599.8 678.2)"><text class="m">T</text><path d="M0 0v20"/><text y="32">30</text></g>
<g id="M14" transform="translate(530.5 701.3)"><text class="m">M</text><path d="M0 0v20"/><text y="32">14</text></g>
<g id="T36" transform="translate(576.7 701.3)"><text class="m">T</text><path d="M0 0v20"/><text y="32">36</text></g>
<g id="M13" transform="translate(553.6 724.4)"><text class="m">M</text><path d="M0 0v20"/><text y="32">13</text></g>
<g id="T60" transform="translate(1270.4 239.3)"><text class="m">T</text><path d="M0 0v20"/><text y="32">60</text></g>
<g id="T61" transform="translate(1247.3 253.2)"><text class="m">T</text><path d="M0 0v20"/><text y="32">61</text></g>
<g id="T58" transform="translate(1224.2 267.1)"><text class="m">T</text><path d="M0 0v20"/><text y="32">58</text></g>
<g id="T59" transform="translate(1201.1 281)"><text class="m">T</text><path d="M0 0v20"/><text y="32">59</text></g>
<g id="T55" transform="translate(1177.9 294.9)"><text class="m">T</text><path d="M0 0v20"/><text y="32">55</text></g>
<g id="T56" transform="translate(1154.8 308.8)"><text class="m">T</text><path d="M0 0v20"/><text y="32">56</text></g>
<g id="T57" transform="translate(1131.7 322.7)"><text class="m">T</text><path d="M0 0v20"/><text y="32">57</text></g>
<g id="T50" transform="translate(1108.6 336.6)"><text class="m">T</text><path d="M0 0v20"/><text y="32">50</text></g>
<g id="T52" transform="translate(1085.4 350.5)"><text class="m">T</text><path d="M0 0v20"/><text y="32">52</text></g>
<g id="T54" transform="translate(1062.3 364.4)"><text class="m">T</text><path d="M0 0v20"/><text y="32">54</text></g>
<g id="T53" transform="translate(1039.2 378.3)"><text class="m">T</text><path d="M0 0v20"/><text y="32">53</text></g>
<g id="T63" transform="translate(1270.4 274)"><text class="m">T</text><path d="M0 0v20"/><text y="32">63</text></g>
<g id="T62" transform="translate(1270.4 306)"><text class="m">T</text><path d="M0 0v20"/><text y="32">62</text></g>
<g id="T66" transform="translate(1270.4 341)"><text class="m">T</text><path d="M0 0v20"/><text y="32">66</text></g>
<g id="T65" transform="translate(1270.4 367.5)"><text class="m">T</text><path d="M0 0v20"/><text y="32">65</text></g>
<g id="T64" transform="translate(1293.6 391.5)"><text class="m">T</text><path d="M0 0v20"/><text y="32">64</text></g>
<g id="T69" transform="translate(1316.7 415.5)"><text class="m">T</text><path d="M0 0v20"/><text y="32">69</text></g>
<g id="T68" transform="translate(1339.8 440)"><text class="m">T</text><path d="M0 0v20"/><text y="32">68</text></g>
<g id="T67" transform="translate(1362.9 464)"><text class="m">T</text><path d="M0 0v20"/><text y="32">67</text></g>
<g id="T72" transform="translate(1386.1 489)"><text class="m">T</text><path d="M0 0v20"/><text y="32">72</text></g>
<g id="T71" transform="translate(1409.2 513)"><text class="m">T</text><path d="M0 0v20"/><text y="32">71</text></g>
<g id="T70" transform="translate(1432.3 538.3)"><text class="m">T</text><path d="M0 0v20"/><text y="32">70</text></g>
<g id="T73" transform="translate(1455.4 562.7)"><text class="m">T</text><path d="M0 0v20"/><text y="32">73</text></g>
<g id="T39" transform="translate(1316.7 516.5)"><text class="m">T</text><path d="M0 0v20"/><text y="32">39</text></g>
<g id="E12" transform="translate(1362.9 516.5)"><text class="m">E</text><path d="M0 0v20"/><text y="32">12</text></g>
<g id="T40" transform="translate(1293.6 539.6)"><text class="m">T</text><path d="M0 0v20"/><text y="32">40</text></g>
<g id="E10" transform="translate(1339.8 539.6)"><text class="m">E</text><path d="M0 0v20"/><text y="32">10</text></g>
<g id="E14" transform="translate(1386.1 539.6)"><text class="m">E</text><path d="M0 0v20"/><text y="32">14</text></g>
<g id="T41" transform="translate(1270.4 562.7)"><text class="m">T</text><path d="M0 0v20"/><text y="32">41</text></g>
<g id="E11" transform="translate(1316.7 562.7)"><text class="m">E</text><path d="M0 0v20"/><text y="32">11</text></g>
<g id="E13" transform="translate(1362.9 562.7)"><text class="m">E</text><path d="M0 0v20"/><text y="32">13</text></g>
<g id="E16" transform="translate(1409.2 562.7)"><text class="m">E</text><path d="M0 0v20"/><text y="32">16</text></g>
<g id="T44" transform="translate(1247.3 585.8)"><text class="m">T</text><path d="M0 0v20"/><text y="32">44</text></g>
<g id="T37" transform="translate(1293.6 585.8)"><text class="m">T</text><path d="M0 0v20"/><text y="32">37</text></g>
<g id="E15" transform="translate(1339.8 585.8)"><text class="m">E</text><path d="M0 0v20"/><text y="32">15</text></g>
<g id="E18" transform="translate(1386.1 585.8)"><text class="m">E</text><path d="M0 0v20"/><text y="32">18</text></g>
<g id="M16" transform="translate(1432.3 585.8)"><text class="m">M</text><path d="M0 0v20"/><text y="32">16</text></g>
<g id="T24" transform="translate(1224.2 608.9)"><text class="m">T</text><path d="M0 0v20"/><text y="32">24</text></g>
<g id="T46" transform="translate(1270.4 608.9)"><text class="m">T</text><path d="M0 0v20"/><text y="32">46</text></g>
<g id="T38" transform="translate(1316.7 608.9)"><text class="m">T</text><path d="M0 0v20"/><text y="32">38</text></g>
<g id="E17" transform="translate(1362.9 608.9)"><text class="m">E</text><path d="M0 0v20"/><text y="32">17</text></g>
<g id="M17" transform="translate(1409.2 608.9)"><text class="m">M</text><path d="M0 0v20"/><text y="32">17</text></g>
<g id="M19" transform="translate(1455.4 608.9)"><text class="m">M</text><path d="M0 0v20"/><text y="32">19</text></g>
<g id="T47" transform="translate(1247.3 632)"><text class="m">T</text><path d="M0 0v20"/><text y="32">47</text></g>
<g id="T48" transform="translate(1293.6 632)"><text class="m">T</text><path d="M0 0v20"/><text y="32">48</text></g>
<g id="M15" transform="translate(1339.8 632)"><text class="m">M</text><path d="M0 0v20"/><text y="32">15</text></g>
<g id="M18" transform="translate(1386.1 632)"><text class="m">M</text><path d="M0 0v20"/><text y="32">18</text></g>
<g id="M21" transform="translate(1432.3 632)"><text class="m">M</text><path d="M0 0v20"/><text y="32">21</text></g>
<g id="T45" transform="translate(1270.4 655.1)"><text class="m">T</text><path d="M0 0v20"/><text y="32">45</text></g>
<g id="M20" transform="translate(1316.7 655.1)"><text class="m">M</text><path d="M0 0v20"/><text y="32">20</text></g>
<g id="M22" transform="translate(1362.9 655.1)"><text class="m">M</text><path d="M0 0v20"/><text y="32">22</text></g>
<g id="M23" transform="translate(1409.2 655.1)"><text class="m">M</text><path d="M0 0v20"/><text y="32">23</text></g>
<g id="T43" transform="translate(1293.6 678.2)"><text class="m">T</text><path d="M0 0v20"/><text y="32">43</text></g>
<g id="M24" transform="translate(1339.8 678.2)"><text class="m">M</text><path d="M0 0v20"/><text y="32">24</text></g>
<g id="M25" transform="translate(1386.1 678.2)"><text class="m">M</text><path d="M0 0v20"/><text y="32">25</text></g>
<g id="T42" transform="translate(1316.7 701.3)"><text class="m">T</text><path d="M0 0v20"/><text y="32">42</text></g>
<g id="M27" transform="translate(1362.9 701.3)"><text class="m">M</text><path d="M0 0v20"/><text y="32">27</text></g>
<g id="M26" transform="translate(1339.8 724.4)"><text class="m">M</text><path d="M0 0v20"/><text y="32">26</text></g>
<g id="A1" transform="translate(854.2 447.2)"><text class="m">A</text><path d="M0 0v20"/><text y="32">1</text></g>
<g id="A2" transform="translate(877.3 447.2)"><text class="m">A</text><path d="M0 0v20"/><text y="32">2</text></g>
<g id="A3" transform="translate(900.4 447.2)"><text class="m">A</text><path d="M0 0v20"/><text y="32">3</text></g>
<g id="A4" transform="translate(923.6 447.2)"><text class="m">A</text><path d="M0 0v20"/><text y="32">4</text></g>
<g id="A5" transform="translate(946.7 447.2)"><text class="m">A</text><path d="M0 0v20"/><text y="32">5</text></g>
<g id="A25" transform="translate(969.8 447.2)"><text class="m">A</text><path d="M0 0v20"/><text y="32">25</text></g>
<g id="A26" transform="translate(992.9 447.2)"><text class="m">A</text><path d="M0 0v20"/><text y="32">26</text></g>
<g id="A27" transform="translate(1016.1 447.2)"><text class="m">A</text><path d="M0 0v20"/><text y="32">27</text></g>
<g id="A28" transform="translate(1039.2 447.2)"><text class="m">A</text><path d="M0 0v20"/><text y="32">28</text></g>
<g id="A6" transform="translate(854.2 470.3)"><text class="m">A</text><path d="M0 0v20"/><text y="32">6</text></g>
<g id="A7" transform="translate(877.3 470.3)"><text class="m">A</text><path d="M0 0v20"/><text y="32">7</text></g>
<g id="A8" transform="translate(900.4 470.3)"><text class="m">A</text><path d="M0 0v20"/><text y="32">8</text></g>
<g id="A9" transform="translate(923.6 470.3)"><text class="m">A</text><path d="M0 0v20"/><text y="32">9</text></g>
<g id="A10" transform="translate(946.7 470.3)"><text class="m">A</text><path d="M0 0v20"/><text y="32">10</text></g>
<g id="A29" transform="translate(969.8 470.3)"><text class="m">A</text><path d="M0 0v20"/><text y="32">29</text></g>
<g id="A30" transform="translate(992.9 470.3)"><text class="m">A</text><path d="M0 0v20"/><text y="32">30</text></g>
<g id="A31" transform="translate(1016.1 470.3)"><text class="m">A</text><path d="M0 0v20"/><text y="32">31</text></g>
<g id="A32" transform="translate(1039.2 470.3)"><text class="m">A</text><path d="M0 0v20"/><text y="32">32</text></g>
<g id="A11" transform="translate(854.2 493.4)"><text class="m">A</text><path d="M0 0v20"/><text y="32">11</text></g>
<g id="A12" transform="translate(877.3 493.4)"><text class="m">A</text><path d="M0 0v20"/><text y="32">12</text></g>
<g id="A13" transform="translate(900.4 493.4)"><text class="m">A</text><path d="M0 0v20"/><text y="32">13</text></g>
<g id="A14" transform="translate(923.6 493.4)"><text class="m">A</text><path d="M0 0v20"/><text y="32">14</text></g>
<g id="A15" transform="translate(946.7 493.4)"><text class="m">A</text><path d="M0 0v20"/><text y="32">15</text></g>
<g id="A33" transform="translate(969.8 493.4)"><text class="m">A</text><path d="M0 0v20"/><text y="32">33</text></g>
<g id="A34" transform="translate(992.9 493.4)"><text class="m">A</text><path d="M0 0v20"/><text y="32">34</text></g>
<g id="A35" transform="translate(1016.1 493.4)"><text class="m">A</text><path d="M0 0v20"/><text y="32">35</text></g>
<g id="A36" transform="translate(1039.2 493.4)"><text class="m">A</text><path d="M0 0v20"/><text y="32">36</text></g>
<g id="A16" transform="translate(854.2 516.5)"><text class="m">A</text><path d="M0 0v20"/><text y="32">16</text></g>
<g id="A17" transform="translate(877.3 516.5)"><text class="m">A</text><path d="M0 0v20"/><text y="32">17</text></g>
<g id="A18" transform="translate(900.4 516.5)"><text class="m">A</text><path d="M0 0v20"/><text y="32">18</text></g>
<g id="A24" transform="translate(923.6 516.5)"><text class="m">A</text><path d="M0 0v20"/><text y="32">24</text></g>
<g id="A37" transform="translate(946.7 516.5)"><text class="m">A</text><path d="M0 0v20"/><text y="32">37</text></g>
<g id="A38" transform="translate(969.8 516.5)"><text class="m">A</text><path d="M0 0v20"/><text y="32">38</text></g>
<g id="A39" transform="translate(992.9 516.5)"><text class="m">A</text><path d="M0 0v20"/><text y="32">39</text></g>
<g id="A40" transform="translate(1016.1 516.5)"><text class="m">A</text><path d="M0 0v20"/><text y="32">40</text></g>
<g id="A42" transform="translate(1039.2 516.5)"><text class="m">A</text><path d="M0 0v20"/><text y="32">42</text></g>
<g id="A19" transform="translate(854.2 539.6)"><text class="m">A</text><path d="M0 0v20"/><text y="32">19</text></g>
<g id="A20" transform="translate(877.3 539.6)"><text class="m">A</text><path d="M0 0v20"/><text y="32">20</text></g>
<g id="A21" transform="translate(900.4 539.6)"><text class="m">A</text><path d="M0 0v20"/><text y="32">21</text></g>
<g id="A22" transform="translate(923.6 539.6)"><text class="m">A</text><path d="M0 0v20"/><text y="32">22</text></g>
<g id="A23" transform="translate(946.7 539.6)"><text class="m">A</text><path d="M0 0v20"/><text y="32">23</text></g>
<g id="A45" transform="translate(969.8 539.6)"><text class="m">A</text><path d="M0 0v20"/><text y="32">45</text></g>
<g id="A44" transform="translate(992.9 539.6)"><text class="m">A</text><path d="M0 0v20"/><text y="32">44</text></g>
<g id="A43" transform="translate(1016.1 539.6)"><text class="m">A</text><path d="M0 0v20"/><text y="32">43</text></g>
<g id="A41" transform="translate(1039.2 539.6)"><text class="m">A</text><path d="M0 0v20"/><text y="32">41</text></g>
<g id="R12" transform="translate(761.7 563.3)"><text class="m">R</text><path d="M0 0L6 -6.8"/><text x="13.3" y="-9.3">12</text></g>
<g id="R5" transform="translate(781.3 576.7)"><text class="m">R</text><path d="M0 0L5 -6.5"/><text x="11" y="-8.7">5</text></g>
<g id="R3" transform="translate(800.7 591.7)"><text class="m">R</text><path d="M0 0L3.4 -7.8"/><text x="7.6" y="-11.7">3</text></g>
<g id="R1" transform="translate(820.7 603.3)"><text class="m">R</text><path d="M0 0L3.4 -8.2"/><text x="7.6" y="-12.6">1</text></g>
<g id="R8" transform="translate(842.3 611.7)"><text class="m">R</text><path d="M0 0L2.7 -8.3"/><text x="6" y="-12.7">8</text></g>
<g id="R4" transform="translate(864 620)"><text class="m">R</text><path d="M0 0L2.3 -7.5"/><text x="5" y="-11">4</text></g>
<g id="R30" transform="translate(887.3 625)"><text class="m">R</text><path d="M0 0L1.1 -8.2"/><text x="2.4" y="-12.6">30</text></g>
<g id="R26" transform="translate(910.7 628.3)"><text class="m">R</text><path d="M0 0L0.7 -8.2"/><text x="1.6" y="-12.6">26</text></g>
<g id="R27" transform="translate(934.5 630)"><text class="m">R</text><path d="M0 0L0 -8.2"/><text x="0.5" y="-12.6">27</text></g>
<g id="R60" transform="translate(958.9 630)"><text class="m">R</text><path d="M0 0L-1.2 -8.2"/><text x="-2.6" y="-12.6">60</text></g>
<g id="R55" transform="translate(982.7 628.3)"><text class="m">R</text><path d="M0 0L-1.8 -7.5"/><text x="-4.1" y="-11">55</text></g>
<g id="R59" transform="translate(1006.1 625)"><text class="m">R</text><path d="M0 0L-2.2 -7.5"/><text x="-4.8" y="-11">59</text></g>
<g id="R35" transform="translate(1029.4 620)"><text class="m">R</text><path d="M0 0L-2.1 -8.2"/><text x="-4.7" y="-12.6">35</text></g>
<g id="R32" transform="translate(1051.1 611.7)"><text class="m">R</text><path d="M0 0L-4.4 -8.3"/><text x="-9.8" y="-12.7">32</text></g>
<g id="R34" transform="translate(1072.7 603.3)"><text class="m">R</text><path d="M0 0L-5.1 -7.5"/><text x="-11.4" y="-10.9">34</text></g>
<g id="R36" transform="translate(1092.7 591.7)"><text class="m">R</text><path d="M0 0L-5.9 -7.5"/><text x="-13" y="-11">36</text></g>
<g id="R38" transform="translate(1112.1 576.7)"><text class="m">R</text><path d="M0 0L-5.6 -6"/><text x="-12.4" y="-7.7">38</text></g>
<g id="R42" transform="translate(1131.7 563.3)"><text class="m">R</text><path d="M0 0L12 4"/><text x="21.3" y="12.4">42</text></g>
<g id="R16" transform="translate(765.7 588.3)"><text class="m">R</text><path d="M0 0L-13 2"/><text x="-22.7" y="9.1">16</text></g>
<g id="R25" transform="translate(766.7 613.3)"><text class="m">R</text><path d="M0 0L-13 2"/><text x="-22.7" y="9.1">25</text></g>
<g id="R29" transform="translate(765.7 638.3)"><text class="m">R</text><path d="M0 0L-13 1.5"/><text x="-23" y="7.4">29</text></g>
<g id="R28" transform="translate(762.3 661.7)"><text class="m">R</text><path d="M0 0L-13 1.5"/><text x="-23.3" y="7.3">28</text></g>
<g id="R2" transform="translate(752.5 686)"><text class="m">R</text><path d="M0 0L-12 -1.5"/><text x="-21.8" y="3">2</text></g>
<g id="R6" transform="translate(742.3 710)"><text class="m">R</text><path d="M0 0L-12 -3.5"/><text x="-21.6" y="-0.3">6</text></g>
<g id="R14" transform="translate(728.3 731.7)"><text class="m">R</text><path d="M0 0L-10 -5"/><text x="-20" y="-4.3">14</text></g>
<g id="R23" transform="translate(713 751.7)"><text class="m">R</text><path d="M0 0L-9 -6"/><text x="-18" y="-6">23</text></g>
<g id="R17" transform="translate(694 770)"><text class="m">R</text><path d="M0 0L-8 -7"/><text x="-15.7" y="-7.6">17</text></g>
<g id="R15" transform="translate(673 785)"><text class="m">R</text><path d="M0 0L-7 -8"/><text x="-14" y="-11">15</text></g>
<g id="R13" transform="translate(651.7 796.7)"><text class="m">R</text><path d="M0 0L-5.5 -9"/><text x="-11" y="-11.7">13</text></g>
<g id="R11" transform="translate(627.3 806.7)"><text class="m">R</text><path d="M0 0L-4 -9"/><text x="-8.3" y="-12.7">11</text></g>
<g id="R9" transform="translate(603.3 813.3)"><text class="m">R</text><path d="M0 0L-3 -9.5"/><text x="-6.6" y="-13.6">9</text></g>
<g id="R7" transform="translate(578.3 816.7)"><text class="m">R</text><path d="M0 0L-1.5 -10"/><text x="-3.3" y="-15">7</text></g>
<g id="R10" transform="translate(553.6 818.3)"><text class="m">R</text><path d="M0 0L0 -10"/><text y="-15.3">10</text></g>
<g id="R18" transform="translate(553.6 841.7)"><text class="m">R</text><path d="M0 0h-13"/><text x="-22.3" y="6.7">18</text></g>
<g id="R20" transform="translate(553.6 864.5)"><text class="m">R</text><path d="M0 0h-13"/><text x="-22.3" y="6.7">20</text></g>
<g id="R22" transform="translate(553.6 887.2)"><text class="m">R</text><path d="M0 0h-13"/><text x="-22.3" y="6.7">22</text></g>
<g id="R24" transform="translate(553.6 910)"><text class="m">R</text><path d="M0 0h-13"/><text x="-22.3" y="6.7">24</text></g>
<g id="R21" transform="translate(553.6 933)"><text class="m">R</text><path d="M0 0h-13"/><text x="-22.3" y="6.7">21</text></g>
<g id="R19" transform="translate(553.6 956)"><text class="m">R</text><path d="M0 0h-13"/><text x="-22.3" y="6.7">19</text></g>
<g id="R46" transform="translate(1127.7 588.3)"><text class="m">R</text><path d="M0 0L13 2"/><text x="22.7" y="9.1">46</text></g>
<g id="R58" transform="translate(1126.7 613.3)"><text class="m">R</text><path d="M0 0L13 2"/><text x="22.7" y="9.1">58</text></g>
<g id="R53" transform="translate(1127.7 638.3)"><text class="m">R</text><path d="M0 0L13 1.5"/><text x="23" y="7.4">53</text></g>
<g id="R57" transform="translate(1131.1 661.7)"><text class="m">R</text><path d="M0 0L13 1.5"/><text x="23.3" y="7.3">57</text></g>
<g id="R31" transform="translate(1139 685)"><text class="m">R</text><path d="M0 0L12 -1"/><text x="21.8" y="4">31</text></g>
<g id="R33" transform="translate(1151.1 710)"><text class="m">R</text><path d="M0 0L12 -3.5"/><text x="21.6" y="-0.3">33</text></g>
<g id="R44" transform="translate(1165.1 731.7)"><text class="m">R</text><path d="M0 0L10 -5"/><text x="20" y="-4.3">44</text></g>
<g id="R56" transform="translate(1180.4 751.7)"><text class="m">R</text><path d="M0 0L9 -6"/><text x="18" y="-6">56</text></g>
<g id="R49" transform="translate(1199.4 770)"><text class="m">R</text><path d="M0 0L8 -7"/><text x="15.7" y="-7.6">49</text></g>
<g id="R51" transform="translate(1220.4 785)"><text class="m">R</text><path d="M0 0L7 -8"/><text x="14" y="-11">51</text></g>
<g id="R37" transform="translate(1241.7 796.7)"><text class="m">R</text><path d="M0 0L5.5 -9"/><text x="11" y="-11.7">37</text></g>
<g id="R39" transform="translate(1266.1 806.7)"><text class="m">R</text><path d="M0 0L4 -9"/><text x="8.3" y="-12.7">39</text></g>
<g id="R41" transform="translate(1290.1 813.3)"><text class="m">R</text><path d="M0 0L3 -9.5"/><text x="6.6" y="-13.6">41</text></g>
<g id="R43" transform="translate(1315.1 816.7)"><text class="m">R</text><path d="M0 0L1.5 -10"/><text x="3.3" y="-15">43</text></g>
<g id="R40" transform="translate(1339.8 818.3)"><text class="m">R</text><path d="M0 0L0 -10"/><text y="-15.3">40</text></g>
<g id="R48" transform="translate(1339.8 841.7)"><text class="m">R</text><path d="M0 0h13"/><text x="22.3" y="7.2">48</text></g>
<g id="R50" transform="translate(1339.8 864.5)"><text class="m">R</text><path d="M0 0h13"/><text x="22.3" y="7.2">50</text></g>
<g id="R52" transform="translate(1339.8 887.2)"><text class="m">R</text><path d="M0 0h13"/><text x="22.3" y="7.2">52</text></g>
<g id="R54" transform="translate(1339.8 910)"><text class="m">R</text><path d="M0 0h13"/><text x="22.3" y="7.2">54</text></g>
<g id="R45" transform="translate(1339.8 933)"><text class="m">R</text><path d="M0 0h13"/><text x="22.3" y="7.2">45</text></g>
<g id="R47" transform="translate(1339.8 956)"><text class="m">R</text><path d="M0 0h13"/><text x="22.3" y="7.2">47</text></g>
</g>
<g id="footer">
<rect x="21.7" y="978.5" width="1850" height="50" fill="#fff"/>
<path class="f d" d="M21.7 978.5H1871.7M21.7 8.3V1024M1871.7 8.3V1024"/>
<text class="ft" x="26" y="996.5">Page #25  16 Counts</text>
<text class="ft" x="163.3" y="996.5">Trombones:  Adjust 16  Blockcs: Hold 8 and oblique 8</text>
</g>
</svg>
